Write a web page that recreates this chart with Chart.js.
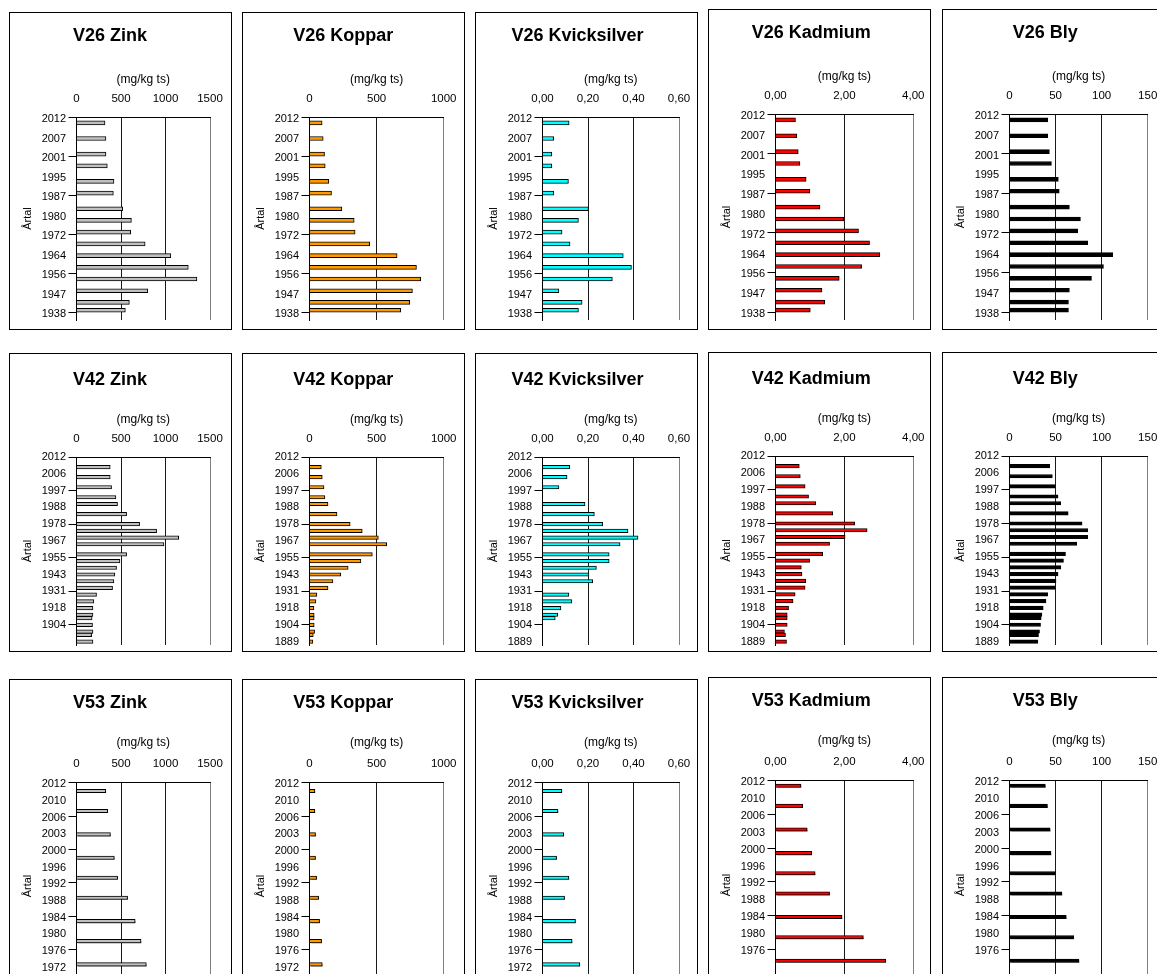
<!DOCTYPE html>
<html>
<head>
<meta charset="utf-8">
<script src="https://cdn.jsdelivr.net/npm/chart.js@4/dist/chart.umd.min.js"></script>
<style>
  html, body { margin: 0; padding: 0; background: #fff; width: 1157px; height: 974px; overflow: hidden; position: relative; }
  .box { position: absolute; border: 1px solid #000; box-sizing: border-box; background: #fff; }
  .box canvas { position: absolute; left: 0; top: 0; }
</style>
</head>
<body>
<script>
// ---------- Metals ----------
const metals = ['Zink', 'Koppar', 'Kvicksilver', 'Kadmium', 'Bly'];

// ---------- Station V26 (52 core slices, year label every 5th slice) ----------
const v26Years = ['2012', '2007', '2001', '1995', '1987', '1980', '1972', '1964', '1956', '1947', '1938'];
const v26Slots = [1, 5, 9, 12, 16, 19, 23, 26, 29, 32, 35, 38, 41, 44, 47, 49];
const v26Zink = [320, 331, 331, 346, 421, 414, 519, 617, 609, 771, 1060, 1256, 1353, 801, 594, 549];
const v26Koppar = [94, 102, 112, 117, 144, 164, 241, 333, 340, 449, 653, 797, 829, 767, 747, 680];
const v26Kvicksilver = [0.117, 0.049, 0.041, 0.041, 0.114, 0.050, 0.202, 0.158, 0.086, 0.121, 0.355, 0.391, 0.307, 0.072, 0.174, 0.158];
const v26Kadmium = [0.58, 0.62, 0.66, 0.71, 0.89, 1.00, 1.29, 1.98, 2.41, 2.73, 3.03, 2.50, 1.85, 1.35, 1.43, 1.01];
const v26Bly = [41.5, 41.5, 43.3, 45.5, 53, 54, 65, 77, 74, 85, 112, 102, 89, 65, 64, 64];

// ---------- Station V42 (57 core slices) ----------
const v42Years = ['2012', '2006', '1997', '1988', '1978', '1967', '1955', '1943', '1931', '1918', '1904', '1889'];
const v42ZinkYears = v42Years.slice(0, 11);
const v42Slots = [3, 6, 9, 12, 14, 17, 20, 22, 24, 26, 29, 31, 33, 35, 37, 39, 41, 43, 45, 47, 48, 50, 52, 53, 55];
const v42Zink = [379, 379, 394, 443, 461, 563, 709, 900, 1148, 983, 563, 488, 450, 431, 420, 405, 225, 195, 185, 185, 175, 180, 185, 170, 185];
const v42Koppar = [88, 95, 108, 115, 138, 205, 303, 393, 513, 575, 468, 383, 288, 233, 175, 138, 55, 48, 33, 35, 35, 35, 38, 28, 25];
const v42Kvicksilver = [0.120, 0.108, 0.072, null, 0.187, 0.228, 0.265, 0.376, 0.420, 0.341, 0.293, 0.293, 0.237, 0.204, 0.221, null, 0.116, 0.129, 0.081, 0.067, 0.056, null, null, null, null];
const v42Kadmium = [0.69, 0.72, 0.86, 0.96, 1.17, 1.66, 2.30, 2.66, 2.02, 1.57, 1.37, 0.99, 0.75, 0.77, 0.88, 0.86, 0.57, 0.51, 0.38, 0.34, 0.34, 0.34, 0.26, 0.29, 0.32];
const v42Bly = [43.6, 46.5, 49.5, 52.7, 55.7, 63.7, 78.8, 85.0, 85.0, 72.9, 60.8, 58.6, 55.7, 52.7, 50.5, 49.8, 41.4, 39.6, 36.6, 35.2, 34.4, 33.7, 32.6, 31.5, 30.8];

// ---------- Station V53 (62 core slices) ----------
const v53Years = ['2012', '2010', '2006', '2003', '2000', '1996', '1992', '1988', '1984', '1980', '1976', '1972'];
const v53CdPbYears = v53Years.slice(0, 11);
const v53Slots = [2, 8, 15, 22, 28, 34, 41, 47, 54];
const v53SlotsCdPb = [1, 7, 14, 21, 27, 33, 40, 46, 53];
const v53Zink = [329, 351, 381, 425, 462, 574, 659, 725, 784];
const v53Koppar = [40, 40, 45, 45, 53, 68, 75, 90, 95];
const v53Kvicksilver = [0.085, 0.068, 0.093, 0.062, 0.116, 0.097, 0.145, 0.130, 0.164];
const v53Kadmium = [0.74, 0.79, 0.92, 1.05, 1.15, 1.57, 1.93, 2.55, 3.20];
const v53Bly = [38.9, 41.2, 44.1, 45.0, 49.8, 56.9, 61.6, 69.7, 75.4];

// ---------- Axis settings per metal ----------
const metalColor = { Zink: '#C0C0C0', Koppar: '#FF9900', Kvicksilver: '#00FFFF', Kadmium: '#FF0000', Bly: '#000000' };
const metalMax = { Zink: 1500, Koppar: 1000, Kvicksilver: 0.6, Kadmium: 4, Bly: 150 };
const metalStep = { Zink: 500, Koppar: 500, Kvicksilver: 0.2, Kadmium: 2, Bly: 50 };
const metalDecimals = { Zink: 0, Koppar: 0, Kvicksilver: 2, Kadmium: 2, Bly: 0 };

const LABEL_EVERY = 5;   // year label on every 5th slice
const TICK_EVERY = 10;   // tick mark on every 10th slice

const stations = [
  { id: 'V26', slotCount: 52, between: true, years: v26Years, slots: v26Slots,
    values: [v26Zink, v26Koppar, v26Kvicksilver, v26Kadmium, v26Bly] },
  { id: 'V42', slotCount: 57, between: false, years: v42Years, slots: v42Slots,
    yearsByMetal: { Zink: v42ZinkYears },
    values: [v42Zink, v42Koppar, v42Kvicksilver, v42Kadmium, v42Bly] },
  { id: 'V53', slotCount: 62, between: true, years: v53Years, slots: v53Slots,
    yearsByMetal: { Kadmium: v53CdPbYears, Bly: v53CdPbYears },
    slotsByMetal: { Kadmium: v53SlotsCdPb, Bly: v53SlotsCdPb },
    values: [v53Zink, v53Koppar, v53Kvicksilver, v53Kadmium, v53Bly] }
];

// ---------- Panel layout ----------
const BOX_W = 223;
const colLeft = [9, 242, 475, 708, 942];
const colPlotRight = [200, 200.7, 203, 204.3, 204.7];
const rowTop = [12, 353, 679];
const rowHeight = [318, 299, 322];
const rowTitleY = [22.7, 25.7, 22.7];
const rowUnitY = [66.7, 65.7, 62.7];
const rowTickY = [86, 84.7, 84];
const rowPlotTop = [104, 103, 102.7];
const rowPadBottom = [9, 6, 10.6];
const rowBar = [4, 3.5, 3.5];
const rowShiftRight = [-3, -1, -2]; // Kadmium and Bly frames start slightly higher

Chart.defaults.font.family = "'Liberation Sans', Arial, Helvetica, sans-serif";
Chart.defaults.color = '#000';

// Soft drop shadow under the bars (third row)
const barShadow = {
  id: 'barShadow',
  beforeDatasetsDraw(chart, args, opts) {
    if (!opts.on) return;
    const c = chart.ctx;
    c.save();
    c.shadowColor = 'rgba(0,0,0,0.35)';
    c.shadowOffsetX = 1.5;
    c.shadowOffsetY = 1.5;
    c.shadowBlur = 0;
  },
  afterDatasetsDraw(chart, args, opts) {
    if (!opts.on) return;
    chart.ctx.restore();
  }
};

function fmt(v, d) {
  return d === 0 ? String(Math.round(v)) : Number(v).toFixed(d).replace('.', ',');
}

stations.forEach((st, r) => {
  metals.forEach((metal, c) => {
    const shift = c >= 3 ? rowShiftRight[r] : 0;
    const top = rowTop[r] + shift;
    const height = rowHeight[r] - shift;

    const box = document.createElement('div');
    box.className = 'box';
    box.style.left = colLeft[c] + 'px';
    box.style.top = top + 'px';
    box.style.width = BOX_W + 'px';
    box.style.height = height + 'px';
    const cv = document.createElement('canvas');
    cv.width = BOX_W - 2;
    cv.height = height - 2;
    cv.style.width = (BOX_W - 2) + 'px';
    cv.style.height = (height - 2) + 'px';
    box.appendChild(cv);
    document.body.appendChild(box);

    const slots = (st.slotsByMetal && st.slotsByMetal[metal]) || st.slots;
    const years = (st.yearsByMetal && st.yearsByMetal[metal]) || st.years;
    const labels = Array.from({ length: st.slotCount }, (_, i) =>
      i % LABEL_EVERY === 0 ? (years[i / LABEL_EVERY] || '') : '');
    const series = new Array(st.slotCount).fill(null);
    slots.forEach((s, k) => { series[s] = st.values[c][k]; });

    const titleBottom = rowTitleY[r] + 10.8;
    const xHeight = rowPlotTop[r] - titleBottom;
    const unitPad = rowUnitY[r] - 7.2 - titleBottom;
    const tickPad = rowPlotTop[r] - rowTickY[r] - 6.9;
    const max = metalMax[metal];

    new Chart(cv, {
      type: 'bar',
      data: {
        labels: labels,
        datasets: [{
          data: series,
          backgroundColor: metalColor[metal],
          borderColor: '#000',
          borderWidth: 1,
          barThickness: rowBar[r],
          borderSkipped: 'start'
        }]
      },
      options: {
        indexAxis: 'y',
        responsive: false,
        animation: false,
        devicePixelRatio: 1,
        layout: { padding: { left: 0, top: 0, right: (BOX_W - 2) - colPlotRight[c], bottom: rowPadBottom[r] } },
        plugins: {
          legend: { display: false },
          tooltip: { enabled: false },
          title: {
            display: true,
            text: st.id + ' ' + metal,
            color: '#000',
            font: { size: 18, weight: 'bold' },
            padding: { top: rowTitleY[r] - 10.8, bottom: 0 }
          },
          barShadow: { on: r === 2 }
        },
        scales: {
          x: {
            type: 'linear',
            position: 'top',
            min: 0,
            max: max,
            ticks: {
              stepSize: metalStep[metal],
              autoSkip: false,
              maxRotation: 0,
              padding: tickPad,
              font: { size: 11.5 },
              color: '#000',
              callback: (v) => fmt(v, metalDecimals[metal])
            },
            grid: {
              drawTicks: false,
              lineWidth: 1,
              color: (ctx) => (ctx.tick && Math.abs(ctx.tick.value - max) < 1e-9) ? '#808080' : '#1a1a1a'
            },
            border: { display: true, color: '#000', width: 1 },
            title: {
              display: true,
              text: '(mg/kg ts)',
              color: '#000',
              font: { size: 12 },
              padding: { top: unitPad, bottom: 0 }
            },
            afterFit: (s) => { s.height = xHeight; s.paddingLeft = 0; s.paddingRight = 0; }
          },
          y: {
            type: 'category',
            offset: st.between,
            ticks: { autoSkip: false, padding: 2.4, font: { size: 11 }, color: '#000' },
            grid: {
              offset: st.between,
              drawOnChartArea: false,
              drawTicks: true,
              tickLength: 8,
              lineWidth: 1,
              tickColor: (ctx) => (ctx.index % TICK_EVERY === 0) ? '#000' : 'rgba(0,0,0,0)'
            },
            border: { display: true, color: '#000', width: 1 },
            title: {
              display: true,
              text: 'Årtal',
              color: '#000',
              font: { size: 11 },
              padding: { top: 11.4, bottom: 0 }
            },
            afterFit: (s) => { s.width = 66.5; s.paddingTop = 0; s.paddingBottom = 0; }
          }
        }
      },
      plugins: [barShadow]
    });
  });
});
</script>
</body>
</html>
